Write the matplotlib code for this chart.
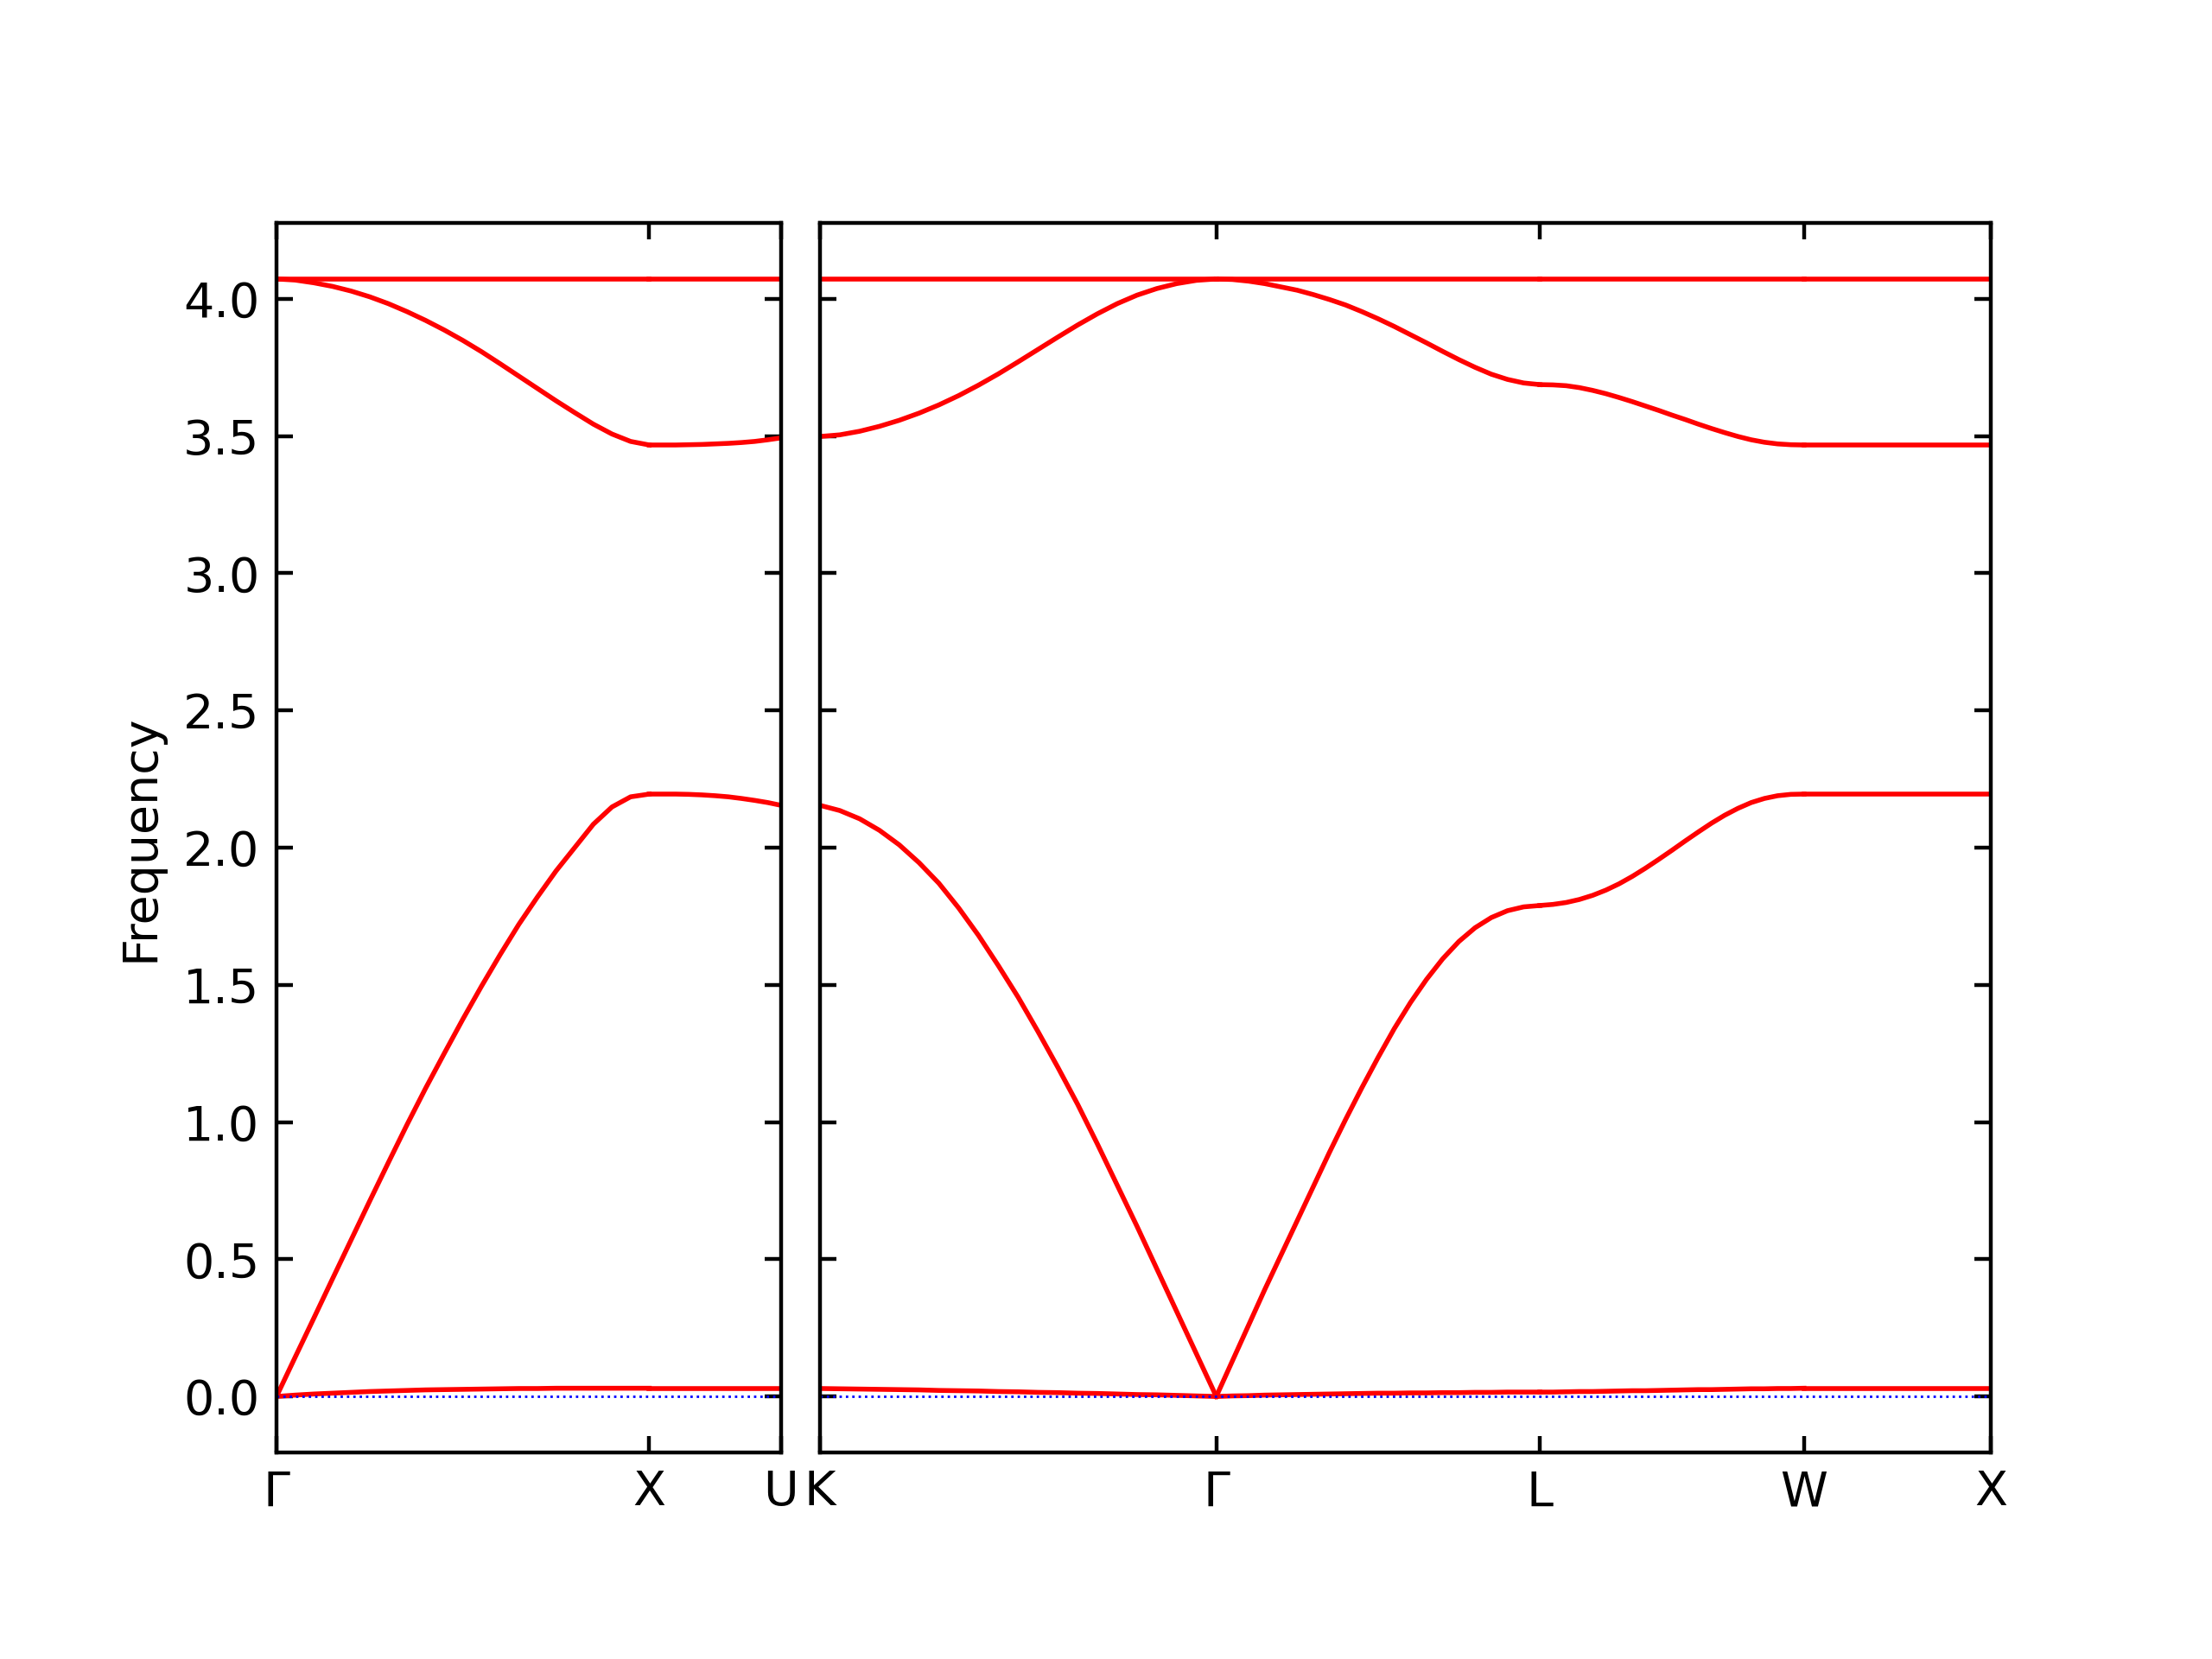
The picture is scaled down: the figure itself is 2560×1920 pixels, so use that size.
import matplotlib
matplotlib.use('Agg')
import matplotlib.pyplot as plt
import numpy as np

# path segment lengths (Gamma-X-U | K-Gamma-L-W-X)
seg_len = {'GX': 1.0, 'XU': 0.3536, 'KG': 1.0607, 'GL': 0.8660, 'LW': 0.7071, 'WX': 0.5}

t21 = [0.0, 0.05, 0.10, 0.15, 0.20, 0.25, 0.30, 0.35, 0.40, 0.45, 0.50,
       0.55, 0.60, 0.65, 0.70, 0.75, 0.80, 0.85, 0.90, 0.95, 1.0]
t11 = [0.0, 0.1, 0.2, 0.3, 0.4, 0.5, 0.6, 0.7, 0.8, 0.9, 1.0]
t3 = [0.0, 0.5, 1.0]

# Gamma -> X
opt_GX = [4.072, 4.068, 4.058, 4.045, 4.028, 4.007, 3.982, 3.953, 3.921, 3.886, 3.848,
          3.807, 3.763, 3.718, 3.673, 3.628, 3.585, 3.543, 3.507, 3.480, 3.467]
ac_GX = [0.0, 0.143, 0.285, 0.428, 0.570, 0.712, 0.852, 0.990, 1.123, 1.250, 1.375,
         1.495, 1.610, 1.720, 1.820, 1.915, 2.000, 2.085, 2.148, 2.185, 2.195]
low_GX = [0.0, 0.005, 0.009, 0.012, 0.015, 0.018, 0.020, 0.022, 0.024, 0.025, 0.026,
          0.027, 0.028, 0.029, 0.029, 0.030, 0.030, 0.030, 0.030, 0.030, 0.030]

# X -> U
opt_XU = [3.467, 3.467, 3.467, 3.468, 3.469, 3.471, 3.473, 3.476, 3.480, 3.486, 3.493]
ac_XU = [2.195, 2.195, 2.195, 2.194, 2.192, 2.189, 2.185, 2.179, 2.172, 2.164, 2.154]
low_XU = [0.030, 0.030, 0.030, 0.030, 0.030, 0.030, 0.030, 0.030, 0.030, 0.030, 0.030]

# K -> Gamma
opt_KG = [3.498, 3.504, 3.517, 3.535, 3.557, 3.583, 3.613, 3.647, 3.685, 3.726, 3.770,
          3.815, 3.860, 3.904, 3.945, 3.982, 4.013, 4.037, 4.055, 4.067, 4.072]
ac_KG = [2.154, 2.135, 2.105, 2.063, 2.010, 1.945, 1.870, 1.780, 1.680, 1.570, 1.455,
         1.330, 1.200, 1.065, 0.920, 0.770, 0.620, 0.465, 0.310, 0.155, 0.0]
low_KG = [0.029, 0.028, 0.027, 0.026, 0.025, 0.024, 0.022, 0.021, 0.020, 0.018, 0.017,
          0.015, 0.014, 0.012, 0.011, 0.009, 0.007, 0.006, 0.004, 0.002, 0.0]

# Gamma -> L
opt_GL = [4.072, 4.070, 4.064, 4.055, 4.043, 4.031, 4.015, 3.997, 3.977, 3.953, 3.927,
          3.899, 3.869, 3.839, 3.808, 3.778, 3.750, 3.725, 3.706, 3.693, 3.687]
ac_GL = [0.0, 0.130, 0.260, 0.390, 0.515, 0.640, 0.765, 0.890, 1.010, 1.125, 1.235,
         1.340, 1.435, 1.520, 1.595, 1.658, 1.708, 1.745, 1.770, 1.784, 1.789]
low_GL = [0.0, 0.002, 0.003, 0.005, 0.006, 0.007, 0.008, 0.009, 0.010, 0.011, 0.012,
          0.012, 0.013, 0.013, 0.014, 0.014, 0.015, 0.015, 0.016, 0.016, 0.016]

# L -> W
opt_LW = [3.687, 3.686, 3.683, 3.676, 3.666, 3.654, 3.640, 3.625, 3.609, 3.593, 3.576,
          3.560, 3.543, 3.527, 3.512, 3.498, 3.486, 3.477, 3.471, 3.468, 3.467]
ac_LW = [1.789, 1.793, 1.800, 1.811, 1.826, 1.845, 1.868, 1.895, 1.925, 1.957, 1.990,
         2.024, 2.057, 2.089, 2.118, 2.143, 2.164, 2.179, 2.189, 2.194, 2.195]
low_LW = [0.016, 0.016, 0.017, 0.018, 0.018, 0.019, 0.020, 0.021, 0.021, 0.022, 0.023,
          0.024, 0.025, 0.025, 0.026, 0.027, 0.028, 0.028, 0.029, 0.029, 0.030]

# W -> X
opt_WX = [3.467, 3.467, 3.467]
ac_WX = [2.195, 2.195, 2.195]
low_WX = [0.030, 0.030, 0.030]

flat_top = 4.072

labels_1 = ['Γ', 'X', 'U']
labels_2 = ['K', 'Γ', 'L', 'W', 'X']

segments_1 = [('GX', t21, [opt_GX, ac_GX, low_GX]),
              ('XU', t11, [opt_XU, ac_XU, low_XU])]
segments_2 = [('KG', t21, [opt_KG, ac_KG, low_KG]),
              ('GL', t21, [opt_GL, ac_GL, low_GL]),
              ('LW', t21, [opt_LW, ac_LW, low_LW]),
              ('WX', t3, [opt_WX, ac_WX, low_WX])]

fig = plt.figure(figsize=(6.4, 4.8), dpi=400)
ax1 = fig.add_axes([0.125, 0.1245, 0.2281, 0.7411])
ax2 = fig.add_axes([0.3707, 0.1245, 0.5293, 0.7411])


def draw(ax, segments, labels):
    start = 0.0
    ticks = [0.0]
    for name, t, bands in segments:
        d = start + np.array(t) * seg_len[name]
        for f in bands:
            ax.plot(d, f, 'r-', linewidth=1)
        ax.plot([d[0], d[-1]], [flat_top, flat_top], 'r-', linewidth=1)
        start += seg_len[name]
        ticks.append(start)
    ax.axhline(y=0, linestyle=':', linewidth=0.5, color='b')
    ax.set_xlim(0, start)
    ax.set_ylim(-0.204, 4.276)
    ax.set_xticks(ticks)
    ax.set_xticklabels(labels)
    ax.set_yticks(np.arange(0, 4.01, 0.5))
    ax.tick_params(axis='both', which='major', direction='in',
                   top=True, right=True, labelsize=10)


draw(ax1, segments_1, labels_1)
draw(ax2, segments_2, labels_2)
ax1.set_yticklabels(['%.1f' % v for v in np.arange(0, 4.01, 0.5)])
ax2.set_yticklabels([])
ax1.set_ylabel('Frequency')

fig.savefig('out.png', dpi=400)
